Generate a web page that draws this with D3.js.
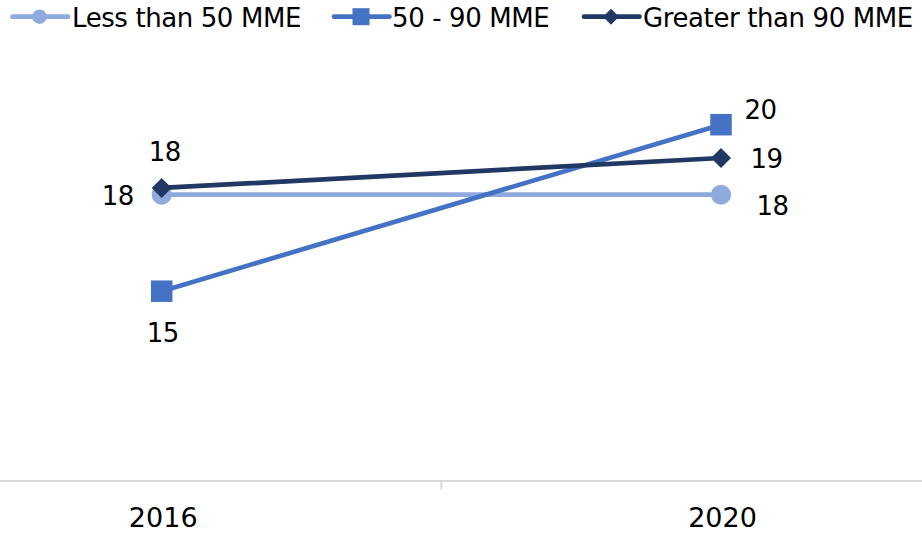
<!DOCTYPE html>
<html>
<head>
<meta charset="utf-8">
<script src="https://cdn.jsdelivr.net/npm/d3@7"></script>
<style>
  html, body { margin: 0; padding: 0; background: #fff; }
  svg { display: block; font-family: "DejaVu Sans", Arial, sans-serif; }
</style>
</head>
<body>
<svg id="chart" width="922" height="535"></svg>
<script>
// Categories and series values
const years = ["2016", "2020"];
const seriesNames = ["Less than 50 MME", "50 - 90 MME", "Greater than 90 MME"];
const lessThan50 = [17.9, 17.9];
const from50to90 = [15.0, 20.0];
const greaterThan90 = [18.1, 19.0];

const colors = ["#8FAADC", "#4472C4", "#203864"];
const markers = ["circle", "square", "diamond"];
// label centre offsets from each point: [dx, dy]
const labelOffsets = [
  [[-44, 0.5], [51.5, 11]],
  [[1, 41], [39.5, -15]],
  [[3, -37], [45.5, 0.7]]
];

const svg = d3.select("#chart");
const W = 922;
const capHalf = 9.7; // half digit height, to centre labels on a point

const x = d3.scalePoint().domain(years).range([161.7, 721]);
const y = d3.scaleLinear().domain([9.3, 20]).range([481, 124.7]);

// category axis with boundary tick between the two categories
const axisY = 481;
svg.append("line")
  .attr("x1", 0).attr("x2", W)
  .attr("y1", axisY).attr("y2", axisY)
  .attr("stroke", "#D9D9D9").attr("stroke-width", 2);
svg.append("line")
  .attr("x1", (x("2016") + x("2020")) / 2).attr("x2", (x("2016") + x("2020")) / 2)
  .attr("y1", axisY).attr("y2", axisY + 8)
  .attr("stroke", "#D9D9D9").attr("stroke-width", 2);

const xAxis = svg.append("g")
  .attr("transform", `translate(0,${axisY})`)
  .call(d3.axisBottom(x).tickSize(0).tickPadding(0));
xAxis.select(".domain").remove();
xAxis.selectAll("text")
  .attr("dy", null)
  .attr("y", 46)
  .attr("dx", 1)
  .attr("font-size", 27).attr("fill", "#000")
  .attr("font-family", "DejaVu Sans, Arial, sans-serif");

const allSeries = [lessThan50, from50to90, greaterThan90];

function drawMarker(g, type, cx, cy, color, size) {
  if (type === "circle") {
    g.append("circle").attr("cx", cx).attr("cy", cy).attr("r", size / 2).attr("fill", color);
  } else if (type === "square") {
    g.append("rect").attr("x", cx - size / 2).attr("y", cy - size / 2)
      .attr("width", size).attr("height", size).attr("fill", color);
  } else {
    const r = size / 2;
    g.append("path")
      .attr("d", `M${cx},${cy - r}L${cx + r},${cy}L${cx},${cy + r}L${cx - r},${cy}Z`)
      .attr("fill", color);
  }
}
const markerSize = { circle: 20, square: 21.5, diamond: 20 };
const legendMarkerSize = { circle: 14.5, square: 17, diamond: 16 };

const line = d3.line().x((d, i) => x(years[i])).y(d => y(d));

allSeries.forEach((vals, si) => {
  const g = svg.append("g");
  g.append("path")
    .datum(vals)
    .attr("d", line)
    .attr("fill", "none")
    .attr("stroke", colors[si])
    .attr("stroke-width", 4.7)
    .attr("stroke-linecap", "round");
  vals.forEach((v, i) => {
    drawMarker(g, markers[si], x(years[i]), y(v), colors[si], markerSize[markers[si]]);
  });
});

// data labels, drawn on top
allSeries.forEach((vals, si) => {
  vals.forEach((v, i) => {
    const [dx, dy] = labelOffsets[si][i];
    svg.append("text")
      .attr("x", x(years[i]) + dx)
      .attr("y", y(v) + dy + capHalf)
      .attr("text-anchor", "middle")
      .attr("font-size", 26)
      .attr("letter-spacing", -0.5)
      .attr("fill", "#000")
      .text(d3.format(".0f")(v));
  });
});

// legend
const legendItems = [
  { x: 12.5, textX: 72 },
  { x: 334, textX: 392 },
  { x: 584, textX: 643 }
];
const legendY = 16.7;
seriesNames.forEach((name, si) => {
  const li = legendItems[si];
  const g = svg.append("g");
  g.append("line")
    .attr("x1", li.x).attr("x2", li.x + 55.5)
    .attr("y1", legendY).attr("y2", legendY)
    .attr("stroke", colors[si]).attr("stroke-width", 4.7)
    .attr("stroke-linecap", "round");
  drawMarker(g, markers[si], li.x + 27, legendY, colors[si], legendMarkerSize[markers[si]]);
  g.append("text")
    .attr("x", li.textX).attr("y", 27.3)
    .attr("font-size", 26)
    .attr("letter-spacing", -0.4)
    .attr("fill", "#000")
    .text(name);
});
</script>
</body>
</html>
